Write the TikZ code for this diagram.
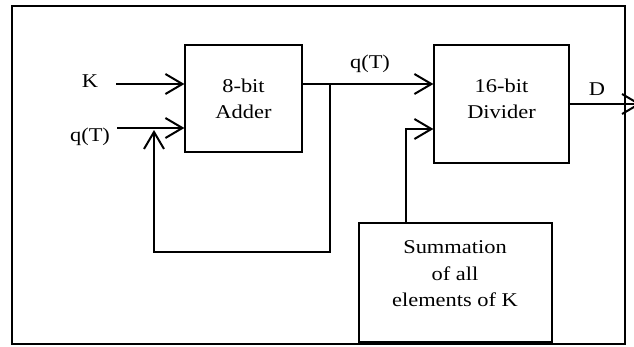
\documentclass[tikz,border=0pt]{standalone}
\usepackage{fontspec}
\setmainfont[FakeStretch=1.15]{Liberation Serif}
\usetikzlibrary{arrows.meta}
\begin{document}
\begin{tikzpicture}[x=1pt,y=-1pt,
  box/.style={draw,line width=1.2pt,inner sep=0pt},
  lbl/.style={font=\fontsize{19.5}{26.5}\selectfont,align=center,inner sep=0pt},
  conn/.style={line width=2pt},
  arr/.style={conn,-{Straight Barb[length=17pt,width=20pt]}}]
\useasboundingbox (0,0) rectangle (634,346);
% outer frame
\draw[line width=2pt] (12.2,6.2) rectangle (624.7,344.3);
% boxes
\node[box,minimum width=117pt,minimum height=107pt] (add) at (243.5,98.5) {};
\node[box,minimum width=135pt,minimum height=118pt] (div) at (501.5,104) {};
\node[box,minimum width=193pt,minimum height=119pt] (sum) at (455.5,282.5) {};
% box texts
\node[lbl] (addt) at (243.5,99) {8-bit\\Adder};
\node[lbl] (divt) at (501.5,99) {16-bit\\Divider};
\node[lbl] (sumt) at (455,274) {Summation\\of all\\elements of K};
% labels
\node[lbl,anchor=base] (kl) at (90,87) {K};
\node[lbl,anchor=base] (ql) at (90,141) {q(T)};
\node[lbl,anchor=base] (qm) at (370,68) {q(T)};
\node[lbl,anchor=base] (dl) at (597,95) {D};
% coordinates
\coordinate (kin) at (116,84);
\coordinate (qin) at (117,128);
\coordinate (jn) at (330,84);
\coordinate (fbr) at (330,252.3);
\coordinate (fbl) at (154,252.3);
\coordinate (fbt) at (154,130);
\coordinate (sk) at (405.7,129);
\coordinate (dout) at (641,104);
% connectors
\draw[arr] (kin) -- (kin -| add.west);
\draw[arr] (qin) -- (qin -| add.west);
\draw[arr] (jn -| add.east) -- (jn -| div.west);
\draw[arr] (jn) -- (fbr) -- (fbl) -- (fbt);
\draw[arr] (sk |- sum.north) -- (sk) -- (sk -| div.west);
\draw[arr] (div.east |- dout) -- (dout);
\end{tikzpicture}
\end{document}
